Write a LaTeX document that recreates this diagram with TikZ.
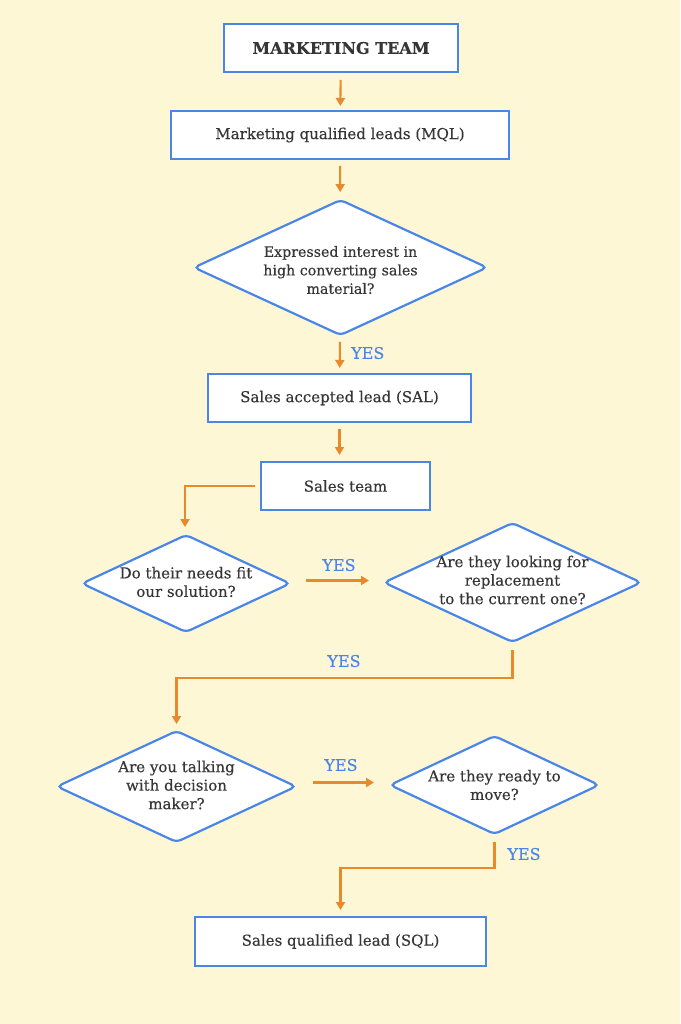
\documentclass[tikz,border=0pt]{standalone}
\usepackage{fontspec}
\setmainfont{DejaVu Serif}[FakeBold=0.3]
\usetikzlibrary{shapes.geometric,arrows.meta}
\definecolor{bg}{HTML}{FEF7D5}
\definecolor{bblue}{HTML}{4A86E8}
\definecolor{aorange}{HTML}{E8892B}
\definecolor{txt}{HTML}{363636}
\tikzset{
  box/.style={draw=bblue, line width=2.4pt, fill=white, text=txt, inner sep=0pt, outer sep=0pt,
    font=\fontsize{15}{18.5}\selectfont},
  dia/.style={diamond, draw=bblue, line width=2.2pt, fill=white, inner sep=0pt, outer sep=0pt,
    rounded corners=5pt},
  dtext/.style={text=txt, inner sep=0pt, align=center, font=\fontsize{15}{18.5}\selectfont},
  arr/.style={draw=aorange, line width=2.1pt, -{Triangle[length=8pt,width=9pt]}},
  yes/.style={text=bblue, font=\fontsize{16}{18}\selectfont, inner sep=0pt}
}
\begin{document}
\begin{tikzpicture}[x=1pt,y=-1pt]
\path[fill=bg, use as bounding box] (0,0) rectangle (680,1024);

\node[box, minimum width=234, minimum height=48] (mt) at (341,48) {\fontsize{16}{19}\selectfont\bfseries MARKETING TEAM};
\node[box, minimum width=338, minimum height=48] (mql) at (340,135) {Marketing qualified leads (MQL)};
\node[dia, minimum width=293, minimum height=135] (d1) at (340.5,267.5) {};
\node[dtext, font=\fontsize{14.2}{18.5}\selectfont] (d1t) at (340.5,270) {Expressed interest in\\high converting sales\\material?};
\node[box, minimum width=263, minimum height=48] (sal) at (339.5,398) {Sales accepted lead (SAL)};
\node[box, minimum width=169, minimum height=48] (st) at (345.5,486) {Sales team};
\node[dia, minimum width=208, minimum height=97] (d2) at (186,583.5) {};
\node[dtext] (d2t) at (186,582) {Do their needs fit\\our solution?};
\node[dia, minimum width=257, minimum height=119] (d3) at (512.5,582.5) {};
\node[dtext] (d3t) at (512.5,580) {Are they looking for\\replacement\\to the current one?};
\node[dia, minimum width=239, minimum height=111] (d4) at (176.5,786.5) {};
\node[dtext] (d4t) at (176.5,785) {Are you talking\\with decision\\maker?};
\node[dia, minimum width=209, minimum height=98] (d5) at (494.5,785) {};
\node[dtext] (d5t) at (494.5,785) {Are they ready to\\move?};
\node[box, minimum width=291, minimum height=49] (sql) at (340.5,941.5) {Sales qualified lead (SQL)};

\draw[arr, shorten <=8pt, shorten >=5pt] (mt) -- (mql);
\draw[arr, shorten <=7pt, shorten >=8pt] (mql) -- (d1);
\draw[arr, shorten <=7pt, shorten >=6pt] (d1) -- (sal);
\node[yes, anchor=west] (y1) at (351,353) {YES};
\draw[arr, shorten <=7pt, shorten >=7pt] (sal.south) -- (sal.south |- st.north);
\draw[arr, shorten <=6pt, shorten >=8pt] (st.west) -| ([xshift=-1pt]d2.north);
\draw[arr, shorten <=16pt, shorten >=15pt] ([yshift=3pt]d2.east) -- ([yshift=3pt]d2.east -| d3.west);
\node[yes] (y2) at (339,565) {YES};
\draw[arr, shorten <=8pt, shorten >=7pt] (d3.south) -- ++(0,36) -| (d4.north);
\node[yes] (y3) at (344,661) {YES};
\draw[arr, shorten <=17pt, shorten >=16pt] ([yshift=4pt]d4.east) -- ([yshift=4pt]d4.east -| d5.west);
\node[yes] (y4) at (341,765) {YES};
\draw[arr, shorten <=8pt, shorten >=7pt] (d5.south) -- ++(0,34) -| (sql.north);
\node[yes] (y5) at (524,854) {YES};
\end{tikzpicture}
\end{document}
